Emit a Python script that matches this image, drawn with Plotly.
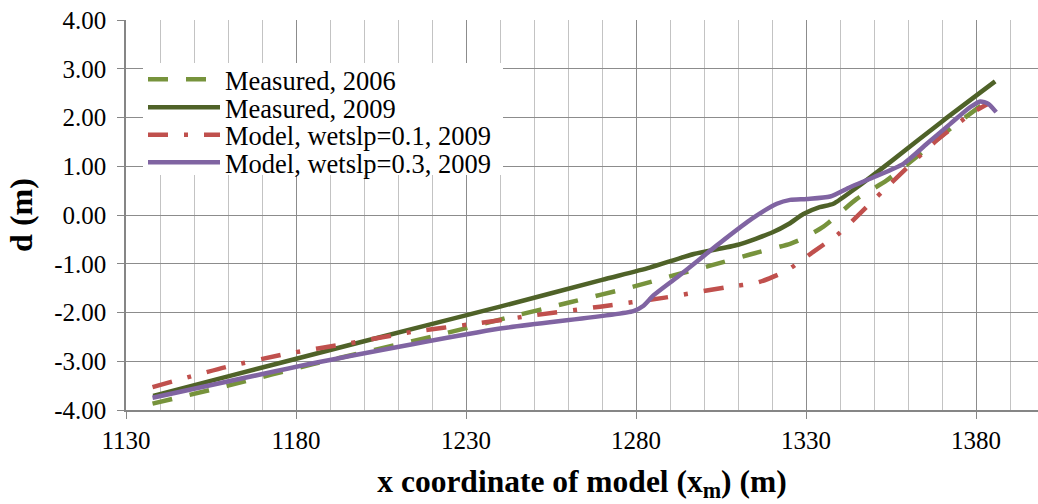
import plotly.graph_objects as go

# ---- data ----
x_meas_2006 = [1137.8, 1160, 1185, 1221.4, 1242, 1260, 1279.2, 1291, 1301.8, 1313.5, 1325.3, 1328.5, 1335.1, 1344.9, 1353.7, 1363, 1372.4, 1384.1]
y_meas_2006 = [-3.87, -3.50, -3.06, -2.47, -2.11, -1.80, -1.47, -1.24, -1.04, -0.81, -0.59, -0.50, -0.24, 0.33, 0.71, 1.22, 1.77, 2.38]

x_meas_2009 = [1138, 1160, 1200, 1240, 1270, 1284, 1297, 1310, 1320, 1325, 1329.2, 1334, 1338, 1345, 1355, 1370, 1385.6]
y_meas_2009 = [-3.71, -3.31, -2.59, -1.88, -1.33, -1.08, -0.80, -0.61, -0.36, -0.18, 0.02, 0.16, 0.23, 0.57, 1.10, 1.92, 2.74]

x_model_01 = [1137.8, 1159.4, 1177, 1195.9, 1214, 1232.6, 1250.8, 1269.4, 1288, 1306.7, 1316, 1324.3, 1332, 1339.5, 1346.4, 1352.7, 1368.4, 1379.2, 1383.6]
y_model_01 = [-3.53, -3.12, -2.85, -2.63, -2.40, -2.23, -2.05, -1.88, -1.70, -1.48, -1.38, -1.14, -0.76, -0.39, 0.07, 0.50, 1.53, 2.11, 2.28]

x_model_03 = [1137.8, 1188, 1240, 1279.2, 1282.2, 1285.1, 1292, 1298.8, 1306, 1314, 1321.4, 1325.3, 1330.2, 1337.1, 1342.9, 1350, 1358.6, 1365.5, 1372.4, 1378.2, 1381.2, 1383.6, 1385.9]
y_model_03 = [-3.75, -3.00, -2.33, -1.97, -1.86, -1.65, -1.28, -0.90, -0.50, -0.08, 0.23, 0.31, 0.33, 0.38, 0.57, 0.78, 1.05, 1.46, 1.87, 2.21, 2.33, 2.28, 2.11]

series_names = ["Measured, 2006", "Measured, 2009", "Model, wetslp=0.1, 2009", "Model, wetslp=0.3, 2009"]

x_tick_vals = [1130, 1180, 1230, 1280, 1330, 1380]
x_tick_text = ["1130", "1180", "1230", "1280", "1330", "1380"]
y_tick_vals = [-4, -3, -2, -1, 0, 1, 2, 3, 4]
y_tick_text = ["-4.00", "-3.00", "-2.00", "-1.00", "0.00", "1.00", "2.00", "3.00", "4.00"]

FONT = "Liberation Serif"
W, H = 1038, 504
ML, MR, MT, MB = 126, 0, 20, 94
PH = H - MT - MB
PW = W - ML - MR
LW = 4.5

def py(p):  # pixel row -> paper y
    return (H - MB - p) / PH

def px(p):  # pixel column -> paper x
    return (p - ML) / PW

fig = go.Figure()
fig.add_trace(go.Scatter(x=x_meas_2006, y=y_meas_2006, name=series_names[0], mode="lines", legend="legend",
                         line=dict(color="#77933C", width=LW, dash="20px,18px", shape="spline", smoothing=0.6)))
fig.add_trace(go.Scatter(x=x_meas_2009, y=y_meas_2009, name=series_names[1], mode="lines", legend="legend2",
                         line=dict(color="#4F6228", width=LW, shape="spline", smoothing=0.6)))
fig.add_trace(go.Scatter(x=x_model_01, y=y_model_01, name=series_names[2], mode="lines", legend="legend3",
                         line=dict(color="#C0504D", width=LW, dash="20px,16px,4px,16px", shape="spline", smoothing=0.6)))
fig.add_trace(go.Scatter(x=x_model_03, y=y_model_03, name=series_names[3], mode="lines", legend="legend4",
                         line=dict(color="#8064A2", width=LW, shape="spline", smoothing=0.6)))

legend_rows = [79.5, 107.5, 135, 162.5]
def leg(row):
    return dict(x=px(143), y=py(row), xanchor="left", yanchor="middle", bgcolor="rgba(0,0,0,0)",
                borderwidth=0, itemwidth=72, font=dict(family=FONT, size=26.5, color="black"))

fig.update_layout(
    width=W, height=H,
    margin=dict(l=ML, r=MR, t=MT, b=MB),
    paper_bgcolor="white", plot_bgcolor="white",
    font=dict(family=FONT, size=25, color="black"),
    showlegend=True,
    legend=leg(legend_rows[0]),
    legend2=leg(legend_rows[1]),
    legend3=leg(legend_rows[2]),
    legend4=leg(legend_rows[3]),
    shapes=[dict(type="rect", xref="paper", yref="paper", x0=px(143), x1=px(503), y0=py(175), y1=py(63),
                 fillcolor="white", line=dict(width=0), layer="above")],
    xaxis=dict(
        range=[1130, 1398.2], tickvals=x_tick_vals, ticktext=x_tick_text,
        showgrid=True, gridcolor="#8c8c8c", gridwidth=1.3,
        minor=dict(dtick=10, tick0=1130, showgrid=True, gridcolor="#c3c3c3", gridwidth=1.3),
        showline=True, linecolor="#868686", linewidth=1.5,
        ticks="outside", ticklen=7, tickcolor="#868686", zeroline=False,
        tickfont=dict(family=FONT, size=25, color="black"),
        title=dict(text="<b>x coordinate of model (x<sub>m</sub>) (m)</b>",
                   font=dict(family=FONT, size=31.5, color="black"), standoff=17),
    ),
    yaxis=dict(
        range=[-4, 4], tickvals=y_tick_vals, ticktext=y_tick_text,
        showgrid=True, gridcolor="#8c8c8c", gridwidth=1.3,
        showline=True, linecolor="#868686", linewidth=1.5,
        ticks="outside", ticklen=7, tickcolor="#868686", zeroline=False,
        ticklabelstandoff=6,
        tickfont=dict(family=FONT, size=25, color="black"),
        title=dict(text="<b>d (m)</b>", font=dict(family=FONT, size=32, color="black"), standoff=12),
    ),
)

fig.write_html("out.html", config={"displayModeBar": False},
               post_script="document.body.style.margin='0';")
